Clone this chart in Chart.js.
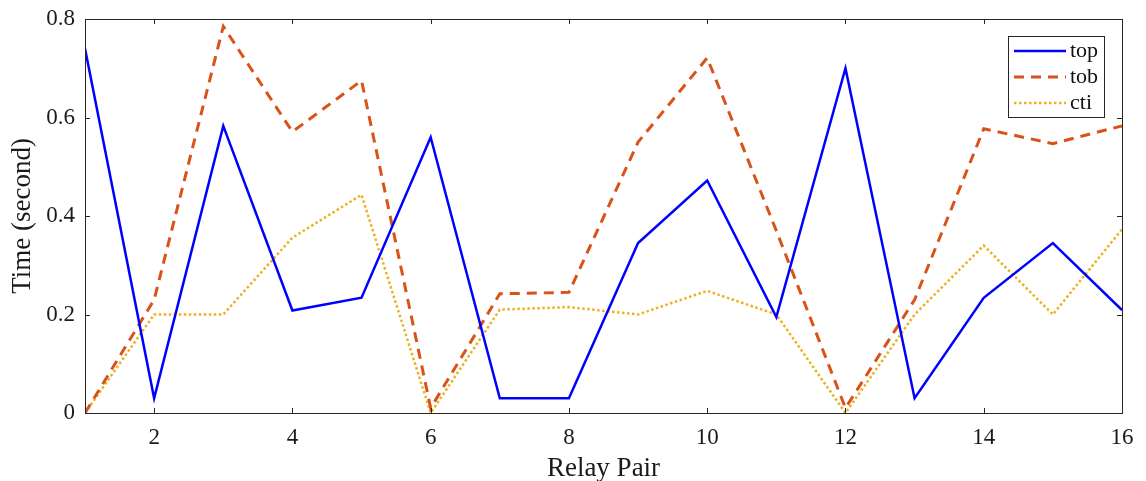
<!DOCTYPE html>
<html>
<head>
<meta charset="utf-8">
<script src="https://cdn.jsdelivr.net/npm/chart.js@4/dist/chart.umd.min.js"></script>
<style>
html,body{margin:0;padding:0;background:#fff;}
#wrap{width:1146px;height:481px;position:relative;}
</style>
</head>
<body>
<div id="wrap"><canvas id="c" width="1146" height="481"></canvas></div>
<script>
const relayPairs = [1,2,3,4,5,6,7,8,9,10,11,12,13,14,15,16];
const topValues = [0.74,0.03,0.583,0.208,0.234,0.56,0.03,0.03,0.345,0.472,0.195,0.70,0.03,0.234,0.345,0.209];
const tobValues = [0.0,0.23,0.785,0.571,0.675,0.01,0.242,0.245,0.55,0.721,0.37,0.01,0.23,0.577,0.547,0.583];
const ctiValues = [0.0,0.2,0.2,0.356,0.443,0.0,0.21,0.215,0.2,0.248,0.2,0.0,0.2,0.34,0.2,0.373];
const xTickValues = [2,4,6,8,10,12,14,16];
const yTickValues = [0,0.2,0.4,0.6,0.8];
const yTickLabels = ['0','0.2','0.4','0.6','0.8'];
const seriesNames = ['top','tob','cti'];

const serif = '"Liberation Serif", "DejaVu Serif", serif';
const frameColor = '#262626';

function pts(vals){ return relayPairs.map((x,i)=>({x:x,y:vals[i]})); }

const framePlugin = {
  id:'frame',
  afterDatasetsDraw(chart){
    const {ctx, chartArea:a, scales} = chart;
    ctx.save();
    ctx.strokeStyle = frameColor;
    ctx.lineWidth = 1;
    ctx.strokeRect(Math.round(a.left)+0.5, Math.round(a.top)+0.5, Math.round(a.right-a.left), Math.round(a.bottom-a.top));
    const tl = 5;
    ctx.beginPath();
    xTickValues.forEach(v=>{
      const px = Math.round(scales.x.getPixelForValue(v))+0.5;
      ctx.moveTo(px,a.bottom); ctx.lineTo(px,a.bottom-tl);
      ctx.moveTo(px,a.top); ctx.lineTo(px,a.top+tl);
    });
    yTickValues.forEach(v=>{
      const py = Math.round(scales.y.getPixelForValue(v))+0.5;
      ctx.moveTo(a.left,py); ctx.lineTo(a.left+tl,py);
      ctx.moveTo(a.right,py); ctx.lineTo(a.right-tl,py);
    });
    ctx.stroke();

    // legend
    const bx=1008, by=36, bw=96, bh=81;
    ctx.fillStyle='#fff';
    ctx.fillRect(bx,by,bw,bh);
    ctx.strokeStyle=frameColor;
    ctx.strokeRect(bx+0.5,by+0.5,bw,bh);
    chart.data.datasets.forEach((ds,i)=>{
      const y = by+15+i*26;
      ctx.save();
      ctx.strokeStyle=ds.borderColor;
      ctx.lineWidth=ds.borderWidth;
      ctx.setLineDash(ds.borderDash||[]);
      ctx.beginPath(); ctx.moveTo(bx+6,y); ctx.lineTo(bx+58,y); ctx.stroke();
      ctx.restore();
      ctx.fillStyle='#111';
      ctx.font='22px '+serif;
      ctx.textAlign='left'; ctx.textBaseline='middle';
      ctx.fillText(ds.label,bx+62,y);
    });
    ctx.restore();
  }
};

new Chart(document.getElementById('c'),{
  type:'line',
  data:{
    datasets:[
      {label:seriesNames[0],data:pts(topValues),borderColor:'#0000FF',borderWidth:2.5,pointRadius:0,tension:0},
      {label:seriesNames[1],data:pts(tobValues),borderColor:'#D95319',borderWidth:3,borderDash:[10,7],pointRadius:0,tension:0},
      {label:seriesNames[2],data:pts(ctiValues),borderColor:'#EDB120',borderWidth:2.5,borderDash:[2.5,2.5],pointRadius:0,tension:0}
    ]
  },
  options:{
    responsive:false,
    animation:false,
    layout:{padding:{left:0,right:24,top:19,bottom:0}},
    plugins:{legend:{display:false},tooltip:{enabled:false}},
    scales:{
      x:{
        type:'linear',min:1,max:16,
        afterBuildTicks(s){ s.ticks = xTickValues.map(v=>({value:v})); },
        afterFit(s){ s.height = 68; s.paddingLeft = 0; s.paddingRight = 0; },
        grid:{display:false,drawTicks:false},
        border:{display:false},
        ticks:{color:'#1a1a1a',font:{family:serif,size:23},padding:11,maxRotation:0,callback:v=>String(v)},
        title:{display:true,text:'Relay Pair',color:'#1a1a1a',font:{family:serif,size:27,lineHeight:1},padding:{top:0,bottom:-1}}
      },
      y:{
        min:0,max:0.8,
        afterBuildTicks(s){ s.ticks = yTickValues.map(v=>({value:v})); },
        afterFit(s){ s.width = 85; s.paddingTop = 0; s.paddingBottom = 0; },
        grid:{display:false,drawTicks:false},
        border:{display:false},
        ticks:{color:'#1a1a1a',font:{family:serif,size:23},padding:10,callback:(v)=>yTickLabels[yTickValues.indexOf(v)] ?? String(v)},
        title:{display:true,text:'Time (second)',color:'#1a1a1a',font:{family:serif,size:27,lineHeight:1},padding:{top:9,bottom:0}}
      }
    }
  },
  plugins:[framePlugin]
});
</script>
</body>
</html>
